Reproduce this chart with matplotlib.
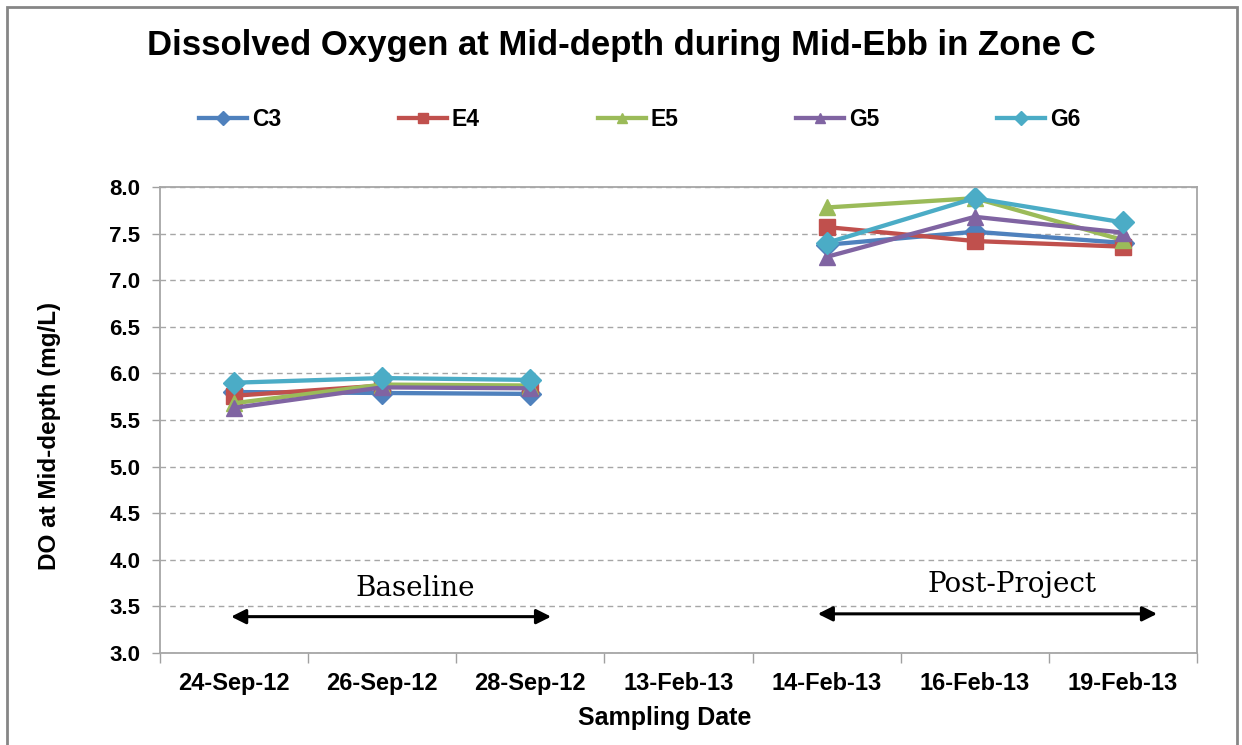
import numpy as np
import matplotlib
matplotlib.use('Agg')
import matplotlib.pyplot as plt
from matplotlib.patches import Rectangle

# Sampling dates and DO values (mg/L), 13-Feb-13 has no data
dates = ['24-Sep-12', '26-Sep-12', '28-Sep-12', '13-Feb-13', '14-Feb-13', '16-Feb-13', '19-Feb-13']
c3 = [5.80, 5.79, 5.78, np.nan, 7.38, 7.52, 7.40]
e4 = [5.76, 5.87, 5.85, np.nan, 7.57, 7.42, 7.36]
e5 = [5.68, 5.88, 5.87, np.nan, 7.78, 7.88, 7.43]
g5 = [5.63, 5.85, 5.84, np.nan, 7.25, 7.68, 7.51]
g6 = [5.90, 5.95, 5.93, np.nan, 7.40, 7.88, 7.62]

series = [('C3', c3, '#4F81BD', 'D', 11.5),
          ('E4', e4, '#C0504D', 's', 11),
          ('E5', e5, '#9BBB59', '^', 12),
          ('G5', g5, '#8064A2', '^', 12),
          ('G6', g6, '#4BACC6', 'D', 11.5)]

plt.rcParams['font.family'] = ['Liberation Sans', 'DejaVu Sans']
plt.rcParams['font.weight'] = 'bold'

fig = plt.figure(figsize=(12.42, 7.45), dpi=100)
ax = fig.add_axes([0.1288, 0.1235, 0.835, 0.6255])

x = np.arange(len(dates))
for name, vals, col, mk, ms in series:
    ax.plot(x, vals, color=col, lw=3.1, marker=mk, ms=ms, label=name)

ax.set_xlim(-0.5, len(dates) - 0.5)
ax.set_ylim(3.0, 8.0)
ax.set_yticks(np.arange(3.0, 8.01, 0.5))
ax.set_yticklabels(['%.1f' % v for v in np.arange(3.0, 8.01, 0.5)])
ax.set_xticks(x)
ax.set_xticklabels(dates)
ax.set_xticks(np.arange(-0.5, len(dates)), minor=True)
ax.tick_params(axis='x', which='major', length=0, pad=14, labelsize=17)
ax.tick_params(axis='x', which='minor', length=7, color='#A0A0A0', width=1)
ax.tick_params(axis='y', length=6, color='#A0A0A0', width=1, labelsize=16, pad=8)
for lab in ax.get_xticklabels() + ax.get_yticklabels():
    lab.set_fontweight('bold')

ax.yaxis.grid(True, linestyle=(0, (4, 3)), color='#A6A6A6', lw=1)
ax.set_axisbelow(True)
for sp in ax.spines.values():
    sp.set_color('#A6A6A6')
    sp.set_linewidth(1.3)

# period arrows and labels
ax.annotate('', xy=(-0.02, 3.39), xytext=(2.14, 3.39),
            arrowprops=dict(arrowstyle='<|-|>', color='black', lw=2.2, mutation_scale=22,
                            shrinkA=0, shrinkB=0))
ax.annotate('', xy=(3.94, 3.42), xytext=(6.23, 3.42),
            arrowprops=dict(arrowstyle='<|-|>', color='black', lw=2.2, mutation_scale=22,
                            shrinkA=0, shrinkB=0))
ax.text(1.22, 3.69, 'Baseline', ha='center', va='center', fontsize=20,
        family='DejaVu Serif', fontweight='normal')
ax.text(5.25, 3.73, 'Post-Project', ha='center', va='center', fontsize=20,
        family='DejaVu Serif', fontweight='normal')

fig.text(0.5, 1 - 45 / 745, 'Dissolved Oxygen at Mid-depth during Mid-Ebb in Zone C',
         ha='center', va='center', fontsize=25, fontweight='bold')
fig.text(50 / 1242, 1 - 436 / 745, 'DO at Mid-depth (mg/L)', rotation=90,
         ha='center', va='center', fontsize=17.5, fontweight='bold')
fig.text(665 / 1242, 1 - 718 / 745, 'Sampling Date', ha='center', va='center',
         fontsize=18, fontweight='bold')

leg = fig.legend(loc='center left', bbox_to_anchor=(199 / 1242, 1 - 120 / 745), ncol=5,
                 frameon=False, fontsize=16.5, handlelength=2.1, handletextpad=0.2,
                 columnspacing=5.15, markerscale=0.6, borderaxespad=0, borderpad=0)
for t in leg.get_texts():
    t.set_fontweight('bold')

fig.patches.append(Rectangle((7 / 1242, -0.05), 1230 / 1242, 1.05 - 7 / 745,
                             transform=fig.transFigure, fill=False,
                             edgecolor='#868686', lw=2))

fig.savefig('out.png', dpi=100)
